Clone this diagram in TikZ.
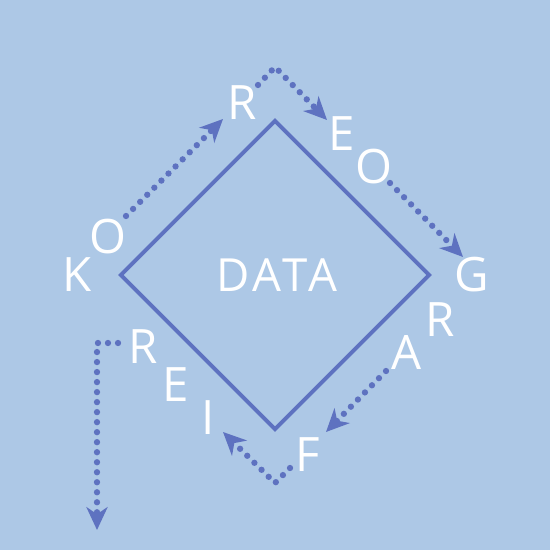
\documentclass[tikz,border=0pt]{standalone}
\usepackage{fontspec}
\setmainfont{Open Sans}
\usetikzlibrary{arrows.meta,shapes.geometric}
\definecolor{bgblue}{HTML}{ADC8E6}
\definecolor{linkblue}{HTML}{5E72C0}

\begin{document}
\begin{tikzpicture}[x=0.02cm,y=-0.02cm,
    letter/.style={text=white,font=\fontsize{27}{27}\selectfont,inner sep=0pt},
    frame/.style={diamond,draw=linkblue,line width=2.2pt,minimum size=6.2cm,inner sep=0pt,
      text=white,font=\fontsize{26}{26}\selectfont\addfontfeature{LetterSpace=9}},
    dotarr/.style={linkblue,line width=3.6pt,line cap=round,dash pattern=on 0pt off 5.7pt,
      -{Stealth[length=13pt,width=12pt,inset=4pt]}}]
  % background
  \fill[bgblue] (0,0) rectangle (550,550);
  \useasboundingbox (0,0) rectangle (550,550);
  % frame
  \node[frame] (data) at (275,275) {\kern2.3pt DATA};
  % letters
  \node[letter] (k) at (77,275) {K};
  \node[letter] (o1) at (108,237) {O};
  \node[letter] (r1) at (242,103) {R};
  \node[letter] (e1) at (342,134) {E};
  \node[letter] (o2) at (374,167) {O};
  \node[letter] (g) at (472,275) {G};
  \node[letter] (r2) at (440,320) {R};
  \node[letter] (a) at (407,352) {A};
  \node[letter] (f) at (308,455) {F};
  \node[letter] (i) at (208,418) {I};
  \node[letter] (e2) at (176,385) {E};
  \node[letter] (r3) at (143,347) {R};
  % dotted arrows
  \coordinate (a1s) at (126,216); \coordinate (a1e) at (223,119);
  \coordinate (a2s) at (258,85); \coordinate (a2m) at (275,67); \coordinate (a2e) at (327,120);
  \coordinate (a3s) at (390,183); \coordinate (a3e) at (463,257);
  \coordinate (a4s) at (386,371); \coordinate (a4e) at (326,432);
  \coordinate (a5s) at (290,468); \coordinate (a5m) at (275,483); \coordinate (a5e) at (223,432);
  \coordinate (a6s) at (118,343); \coordinate (a6m) at (97,343); \coordinate (a6e) at (97,530);
  \draw[dotarr] (a1s) -- (a1e);
  \draw[dotarr] (a2s) -- (a2m) -- (a2e);
  \draw[dotarr] (a3s) -- (a3e);
  \draw[dotarr] (a4s) -- (a4e);
  \draw[dotarr] (a5s) -- (a5m) -- (a5e);
  \draw[dotarr] (a6s) -- (a6m) -- (a6e);
\end{tikzpicture}
\end{document}
